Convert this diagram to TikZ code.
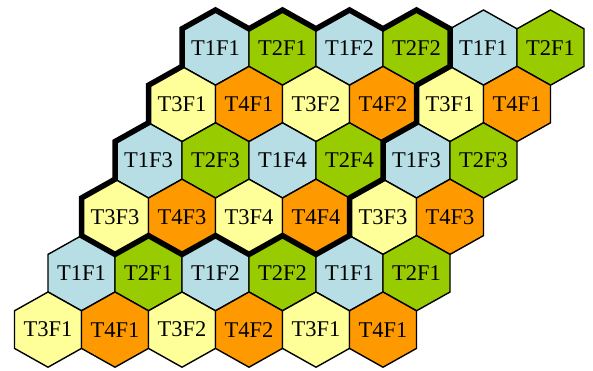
\documentclass[tikz,border=0pt]{standalone}
\usepackage{fontspec}
\setmainfont{Liberation Serif}
\usetikzlibrary{calc}
\definecolor{tblue}{HTML}{B7DEE4}
\definecolor{tgreen}{HTML}{99CC00}
\definecolor{tyellow}{HTML}{FFFF99}
\definecolor{torange}{HTML}{FF9900}
\tikzset{
  hexcell/.style={draw=black,line width=1.4pt,line join=miter},
  hexlabel/.style={font=\fontsize{22.5}{23}\selectfont,inner sep=0pt},
  blockline/.style={draw=black,line width=5.5pt,line join=miter}
}
\begin{document}
\begin{tikzpicture}[x=1pt,y=-1pt]
    \useasboundingbox (0,0) rectangle (593,370);
    % --- hexagon rows (h = half width, r = radius, q = r/2, s = row step) ---
    \def\h{33.5}\def\r{37.6}\def\q{18.8}\def\s{56.4}
    \foreach \i/\ca/\cb/\la/\lb/\lc/\ld in {
        0/tblue/tgreen/T1F1/T2F1/T1F2/T2F2,
        1/tyellow/torange/T3F1/T4F1/T3F2/T4F2,
        2/tblue/tgreen/T1F3/T2F3/T1F4/T2F4,
        3/tyellow/torange/T3F3/T4F3/T3F4/T4F4,
        4/tblue/tgreen/T1F1/T2F1/T1F2/T2F2,
        5/tyellow/torange/T3F1/T4F1/T3F2/T4F2}
      \foreach \j/\lab/\col in {0/\la/\ca,1/\lb/\cb,2/\lc/\ca,3/\ld/\cb,4/\la/\ca,5/\lb/\cb} {
        \pgfmathsetmacro{\cx}{215.5-\h*\i+2*\h*\j}
        \pgfmathsetmacro{\cy}{47.6+\s*\i}
        \path[hexcell,fill=\col] (\cx,\cy) ++(0,-\r) -- ++(\h,\q) -- ++(0,\r)
          -- ++(-\h,\q) -- ++(-\h,-\q) -- ++(0,-\r) -- cycle;
        \node[hexlabel] (c\i\j) at (\cx,\cy) {\lab};
      }
    % --- thick outline of the 4x4 block ---
    \draw[blockline] (182,28.8) -- (215.5,10) -- (249,28.8) -- (282.5,10)
      -- (316,28.8) -- (349.5,10) -- (383,28.8) -- (416.5,10) -- (450,28.8)
      -- (450,66.4) -- (416.5,85.2) -- (416.5,122.8) -- (383,141.6)
      -- (383,179.2) -- (349.5,198) -- (349.5,235.6) -- (316,254.4)
      -- (282.5,235.6) -- (249,254.4) -- (215.5,235.6) -- (182,254.4)
      -- (148.5,235.6) -- (115,254.4) -- (81.5,235.6) -- (81.5,198)
      -- (115,179.2) -- (115,141.6) -- (148.5,122.8) -- (148.5,85.2)
      -- (182,66.4) -- cycle;
  \end{tikzpicture}
\end{document}
